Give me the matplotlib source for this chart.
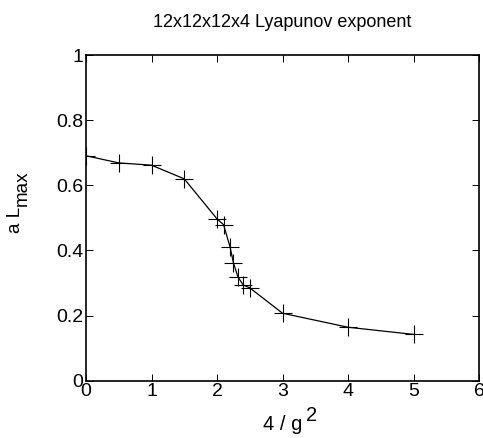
import numpy as np
import matplotlib.pyplot as plt

plt.rcParams['font.family'] = ['Liberation Sans', 'DejaVu Sans']

# 4/g^2 values and the max Lyapunov exponent
inv_g2 = [0.0, 0.5, 1.0, 1.5, 2.0, 2.1, 2.2, 2.25, 2.32, 2.4, 2.5, 3.0, 4.0, 5.0]
a_lmax = [0.691, 0.669, 0.662, 0.620, 0.497, 0.479, 0.410, 0.362, 0.318, 0.294, 0.285, 0.207, 0.164, 0.142]

W, H = 483, 438
fig = plt.figure(figsize=(W / 100, H / 100), dpi=100)
ax = fig.add_axes([0.178, 0.131, 0.814, 0.743])

ax.plot(inv_g2, a_lmax, color='black', lw=0.9, marker='+', ms=13, mew=0.8)

ax.set_xlim(0, 6)
ax.set_ylim(0, 1)
ax.set_xticks(np.arange(0, 7, 1))
ax.set_yticks([0, 0.2, 0.4, 0.6, 0.8, 1])
ax.set_yticklabels(['0', '0.2', '0.4', '0.6', '0.8', '1'])
ax.tick_params(direction='in', top=True, right=True, labelsize=14, length=5, width=0.7, pad=2)
for s in ax.spines.values():
    s.set_linewidth(1.2)

ax.set_title('12x12x12x4 Lyapunov exponent', fontsize=13, pad=20)

# labels done by hand so sub/superscripts stay full size like the original
def px(x, y):
    return x / W, 1 - y / H

fig.text(*px(263, 430), '4 / g', fontsize=14.5, ha='left', va='baseline')
fig.text(*px(306, 421), '2', fontsize=14.5, ha='left', va='baseline')
fig.text(*px(24, 233), 'a L', fontsize=13.5, rotation=90, ha='right', va='bottom')
fig.text(*px(31, 206), 'max', fontsize=13.5, rotation=90, ha='right', va='bottom')

plt.savefig('out.png', dpi=100)
